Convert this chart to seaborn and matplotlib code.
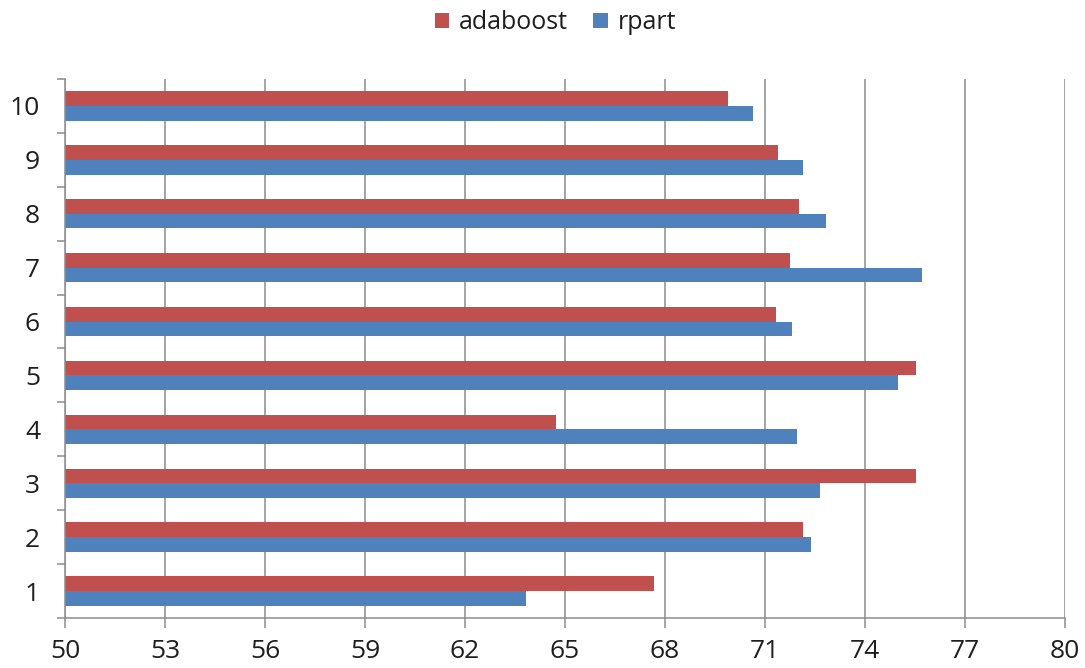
import matplotlib
matplotlib.use("Agg")
import matplotlib.pyplot as plt
from matplotlib.patches import Patch
from matplotlib.ticker import FixedLocator
import pandas as pd
import seaborn as sns

# Accuracy per run (%), for each of the two classifiers
runs = ["1", "2", "3", "4", "5", "6", "7", "8", "9", "10"]
adaboost = [67.67, 72.14, 75.53, 64.73, 75.53, 71.33, 71.75, 72.03, 71.40, 69.90]
rpart = [63.83, 72.37, 72.66, 71.96, 75.00, 71.80, 75.70, 72.82, 72.14, 70.65]
series = ["adaboost", "rpart"]
x_ticks = [50, 53, 56, 59, 62, 65, 68, 71, 74, 77, 80]

colors = {"adaboost": "#C0504D", "rpart": "#4F81BD"}

df = pd.DataFrame({
    "run": runs * 2,
    "value": adaboost + rpart,
    "model": ["adaboost"] * len(runs) + ["rpart"] * len(runs),
})

sns.set_theme(style="white")
plt.rcParams["font.family"] = ["Open Sans", "DejaVu Sans"]

fig = plt.figure(figsize=(10.85, 6.68), dpi=100)
ax = fig.add_axes([65 / 1085, 1 - 618 / 668, 1000 / 1085, (618 - 79) / 668])

order = runs[::-1]
sns.barplot(data=df, x="value", y="run", hue="model", order=order,
            hue_order=series, palette=colors, orient="h", width=0.546,
            gap=0, saturation=1, linewidth=0, legend=False, ax=ax)

grid_color = "#8C8C8C"
ax.set_xlim(x_ticks[0], x_ticks[-1])
ax.set_ylim(len(runs) - 0.5, -0.5)
ax.set_xticks(x_ticks)
ax.set_xticklabels([str(t) for t in x_ticks])
ax.grid(axis="x", color=grid_color, linewidth=1.1)
ax.set_axisbelow(True)
ax.set_xlabel("")
ax.set_ylabel("")

for side in ["top", "right"]:
    ax.spines[side].set_visible(False)
for side in ["left", "bottom"]:
    ax.spines[side].set_color(grid_color)
    ax.spines[side].set_linewidth(1.1)

# Category labels in the middle of each band, tick marks on the band edges
ax.yaxis.set_minor_locator(FixedLocator([i - 0.5 for i in range(len(runs) + 1)]))
ax.tick_params(axis="y", which="major", length=0, pad=18, labelsize=19,
               labelcolor="#1E1E1E")
ax.tick_params(axis="y", which="minor", left=True, length=6, width=1.1,
               color=grid_color, direction="out")
ax.tick_params(axis="x", which="major", bottom=True, length=7, width=1.1,
               color=grid_color, direction="out", pad=8, labelsize=19,
               labelcolor="#1E1E1E")

handles = [Patch(facecolor=colors[s], edgecolor="none", label=s) for s in series]
fig.legend(handles=handles, loc="upper center", bbox_to_anchor=(0.512, 1.018),
           ncol=2, frameon=False, fontsize=18, handlelength=0.58,
           handleheight=0.58, handletextpad=0.4, columnspacing=1.0,
           labelcolor="#1E1E1E")

fig.savefig("out.png", dpi=100, facecolor="white")
